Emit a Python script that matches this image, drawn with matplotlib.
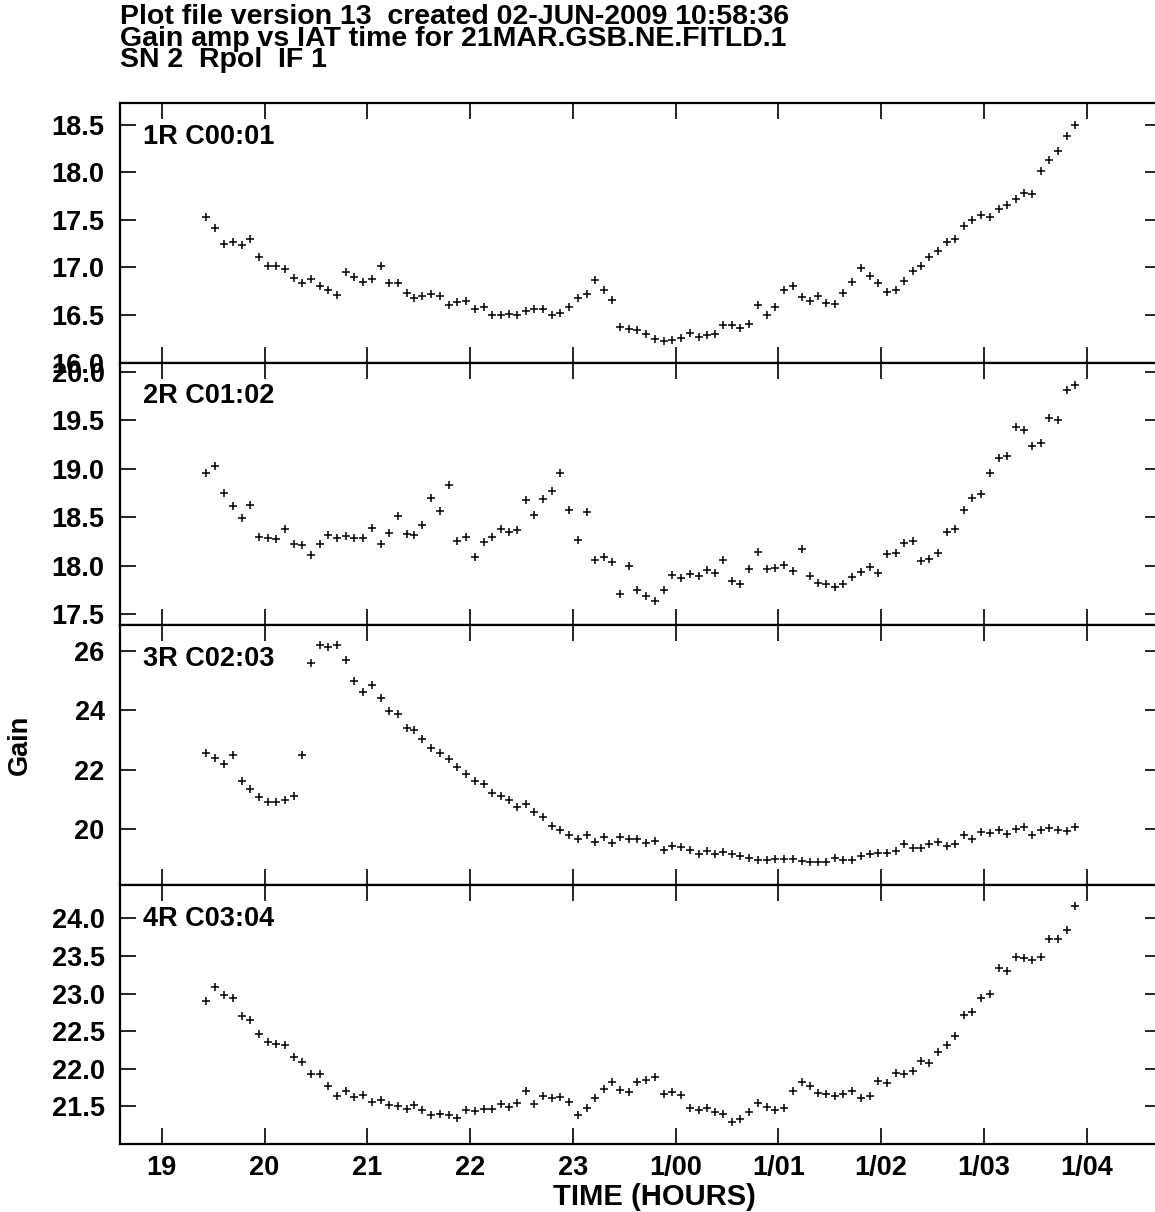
import matplotlib
matplotlib.use("Agg")
import matplotlib.pyplot as plt

plt.rcParams["font.family"] = ["Liberation Sans", "DejaVu Sans"]
plt.rcParams["font.weight"] = "bold"

# time in hours (24 = 1/00)
t = [19.434, 19.519, 19.606, 19.691, 19.778, 19.862, 19.947, 20.031, 20.115, 20.200,
     20.284, 20.368, 20.453, 20.537, 20.621, 20.706, 20.790, 20.874, 20.961, 21.046,
     21.131, 21.214, 21.299, 21.384, 21.452, 21.536, 21.623, 21.708, 21.792, 21.876,
     21.961, 22.045, 22.133, 22.217, 22.301, 22.379, 22.454, 22.544, 22.625, 22.710,
     22.795, 22.878, 22.966, 23.050, 23.135, 23.219, 23.306, 23.384, 23.462, 23.547,
     23.627, 23.712, 23.797, 23.884, 23.968, 24.050, 24.137, 24.225, 24.308, 24.383,
     24.461, 24.546, 24.630, 24.714, 24.802, 24.886, 24.970, 25.055, 25.139, 25.227,
     25.311, 25.388, 25.463, 25.548, 25.632, 25.719, 25.804, 25.888, 25.972, 26.057,
     26.142, 26.225, 26.310, 26.391, 26.466, 26.550, 26.638, 26.721, 26.806, 26.887,
     26.974, 27.059, 27.144, 27.227, 27.312, 27.390, 27.468, 27.552, 27.636, 27.721,
     27.805, 27.886]

gain1 = [17.53, 17.41, 17.25, 17.27, 17.24, 17.30, 17.11, 17.01, 17.01, 16.98,
         16.89, 16.84, 16.88, 16.81, 16.76, 16.71, 16.95, 16.90, 16.85, 16.88,
         17.01, 16.84, 16.84, 16.73, 16.68, 16.70, 16.72, 16.70, 16.60, 16.64,
         16.65, 16.56, 16.58, 16.50, 16.50, 16.51, 16.50, 16.54, 16.56, 16.56,
         16.50, 16.52, 16.58, 16.68, 16.72, 16.87, 16.76, 16.66, 16.37, 16.35,
         16.34, 16.30, 16.25, 16.23, 16.24, 16.26, 16.31, 16.27, 16.29, 16.30,
         16.39, 16.39, 16.36, 16.41, 16.60, 16.50, 16.58, 16.76, 16.81, 16.69,
         16.65, 16.70, 16.63, 16.62, 16.73, 16.85, 16.99, 16.91, 16.84, 16.74,
         16.76, 16.86, 16.96, 17.01, 17.11, 17.17, 17.27, 17.30, 17.44, 17.50,
         17.55, 17.53, 17.62, 17.66, 17.72, 17.78, 17.77, 18.01, 18.13, 18.23,
         18.38, 18.50]

gain2 = [18.96, 19.03, 18.75, 18.61, 18.49, 18.63, 18.29, 18.28, 18.27, 18.38,
         18.22, 18.21, 18.11, 18.22, 18.32, 18.28, 18.31, 18.28, 18.28, 18.39,
         18.22, 18.34, 18.51, 18.33, 18.32, 18.42, 18.70, 18.56, 18.83, 18.25,
         18.29, 18.09, 18.24, 18.29, 18.38, 18.35, 18.37, 18.68, 18.52, 18.69,
         18.77, 18.96, 18.57, 18.26, 18.55, 18.06, 18.09, 18.04, 17.71, 18.00,
         17.75, 17.69, 17.63, 17.75, 17.90, 17.87, 17.91, 17.89, 17.95, 17.92,
         18.06, 17.84, 17.81, 17.96, 18.14, 17.96, 17.98, 18.01, 17.94, 18.17,
         17.89, 17.82, 17.81, 17.78, 17.81, 17.88, 17.93, 17.99, 17.92, 18.12,
         18.13, 18.23, 18.25, 18.05, 18.07, 18.13, 18.35, 18.38, 18.57, 18.70,
         18.74, 18.95, 19.11, 19.13, 19.43, 19.40, 19.23, 19.26, 19.52, 19.50,
         19.81, 19.86]

gain3 = [22.57, 22.40, 22.19, 22.49, 21.63, 21.36, 21.07, 20.93, 20.93, 20.98,
         21.11, 22.50, 25.58, 26.18, 26.11, 26.18, 25.68, 24.99, 24.62, 24.85,
         24.40, 23.97, 23.87, 23.39, 23.34, 23.04, 22.72, 22.55, 22.37, 22.10,
         21.87, 21.61, 21.52, 21.22, 21.11, 20.97, 20.75, 20.86, 20.57, 20.42,
         20.11, 19.97, 19.81, 19.67, 19.81, 19.57, 19.73, 19.53, 19.75, 19.68,
         19.68, 19.55, 19.61, 19.31, 19.45, 19.42, 19.31, 19.17, 19.27, 19.18,
         19.23, 19.18, 19.11, 19.03, 18.96, 18.97, 18.99, 18.99, 19.00, 18.93,
         18.91, 18.91, 18.91, 19.03, 18.97, 18.97, 19.10, 19.16, 19.20, 19.20,
         19.28, 19.50, 19.37, 19.37, 19.50, 19.58, 19.45, 19.52, 19.80, 19.68,
         19.91, 19.87, 19.98, 19.85, 20.02, 20.09, 19.80, 19.98, 20.05, 19.98,
         19.95, 20.08]

gain4 = [22.90, 23.09, 22.98, 22.94, 22.70, 22.65, 22.46, 22.36, 22.33, 22.32,
         22.16, 22.09, 21.93, 21.93, 21.77, 21.64, 21.70, 21.63, 21.65, 21.56,
         21.58, 21.52, 21.50, 21.47, 21.52, 21.45, 21.39, 21.40, 21.38, 21.34,
         21.45, 21.44, 21.46, 21.46, 21.53, 21.49, 21.55, 21.71, 21.53, 21.64,
         21.61, 21.63, 21.56, 21.39, 21.48, 21.61, 21.73, 21.82, 21.72, 21.69,
         21.83, 21.85, 21.89, 21.67, 21.69, 21.65, 21.48, 21.45, 21.48, 21.43,
         21.40, 21.29, 21.33, 21.43, 21.55, 21.49, 21.45, 21.48, 21.71, 21.83,
         21.77, 21.68, 21.67, 21.64, 21.67, 21.70, 21.61, 21.64, 21.84, 21.81,
         21.94, 21.93, 21.97, 22.10, 22.08, 22.22, 22.32, 22.43, 22.72, 22.76,
         22.94, 23.00, 23.34, 23.30, 23.48, 23.47, 23.44, 23.49, 23.72, 23.72,
         23.85, 24.16]

labels = ["1R C00:01", "2R C01:02", "3R C02:03", "4R C03:04"]
series = [gain1, gain2, gain3, gain4]
ylims = [(16.0, 18.73), (17.387, 20.095), (18.129, 26.863), (21.0, 24.443)]
yticks = [[16.0, 16.5, 17.0, 17.5, 18.0, 18.5],
          [17.5, 18.0, 18.5, 19.0, 19.5, 20.0],
          [20, 22, 24, 26],
          [21.5, 22.0, 22.5, 23.0, 23.5, 24.0]]
yfmt = ["%.1f", "%.1f", "%.0f", "%.1f"]
xticks = [19, 20, 21, 22, 23, 24, 25, 26, 27, 28]
xticklabels = ["19", "20", "21", "22", "23", "1/00", "1/01", "1/02", "1/03", "1/04"]

W, H = 1155, 1212
fig = plt.figure(figsize=(W / 100, H / 100), dpi=100)

edges = [(103, 362.5), (362.5, 625), (625, 885), (885, 1144)]
left, right = 120, 1161
fs = 19.5

for i in range(4):
    top, bot = edges[i]
    ax = fig.add_axes([left / W, 1 - bot / H, (right - left) / W, (bot - top) / H])
    ax.plot(t, series[i], "+", color="black", markersize=5.5, markeredgewidth=1.1)
    ax.set_xlim(18.594, 28.723)
    ax.set_ylim(*ylims[i])
    ax.set_xticks(xticks)
    ax.set_yticks(yticks[i])
    ax.set_yticklabels([yfmt[i] % v for v in yticks[i]], fontsize=fs, fontweight="bold")
    if i == 3:
        ax.set_xticklabels(xticklabels, fontsize=fs, fontweight="bold")
    else:
        ax.set_xticklabels([])
    ax.tick_params(direction="in", length=11.5, width=1.2, top=True, right=True)
    ax.tick_params(axis="y", pad=11)
    ax.tick_params(axis="x", pad=8)
    for s in ax.spines.values():
        s.set_linewidth(1.6)
    fig.text(143 / W, 1 - (top + 40.5) / H, labels[i], fontsize=fs, fontweight="bold",
             va="baseline", ha="left")

title = ["Plot file version 13  created 02-JUN-2009 10:58:36",
         "Gain amp vs IAT time for 21MAR.GSB.NE.FITLD.1",
         "SN 2  Rpol  IF 1"]
for k, line in enumerate(title):
    fig.text(120 / W, 1 - (24 + 21.5 * k) / H, line, fontsize=20.5, fontweight="bold",
             va="baseline", ha="left")

fig.text(20 / W, 1 - 745 / H, "Gain", rotation=90, fontsize=fs, fontweight="bold",
         va="center", ha="center")
fig.text(654 / W, 1 - 1197 / H, "TIME (HOURS)", fontsize=21, fontweight="bold",
         va="center", ha="center")

fig.savefig("out.png", dpi=100)
